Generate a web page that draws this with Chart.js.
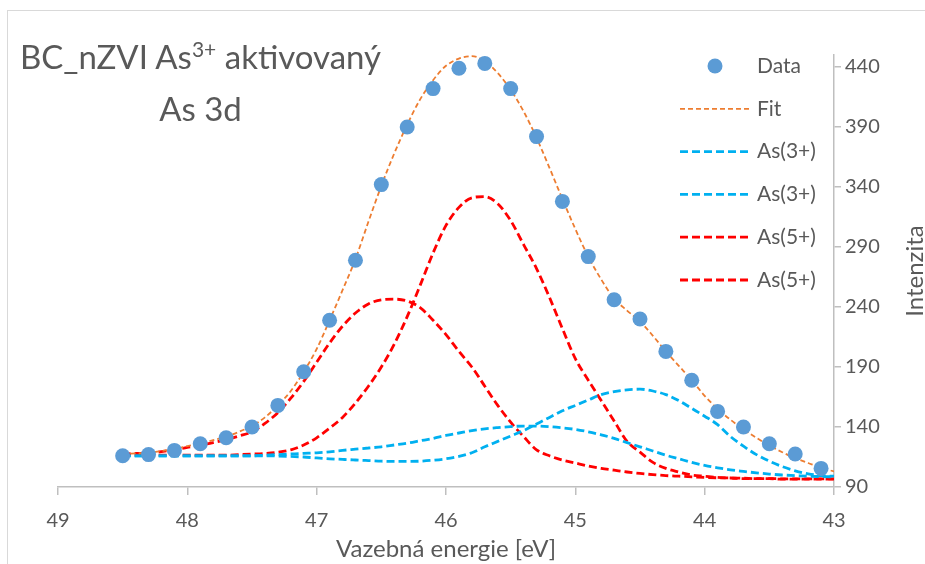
<!DOCTYPE html>
<html>
<head>
<meta charset="utf-8">
<script src="https://cdn.jsdelivr.net/npm/chart.js@4/dist/chart.umd.min.js"></script>
<style>
  body { margin: 0; background: #fff; }
  #wrap { position: relative; width: 925px; height: 564px; overflow: hidden; }
  #frame { position: absolute; left: 7px; top: 10px; width: 1000px; height: 700px;
           border-left: 1px solid #d9d9d9; border-top: 1px solid #d9d9d9; }
  #title { position: absolute; left: 0; top: 30px; width: 401px; text-align: center;
           font-family: Lato, sans-serif; font-size: 33px; color: #595959; line-height: 52px; }
  #title sup { font-size: 21px; vertical-align: 12px; line-height: 0; }
  canvas { position: absolute; left: 0; top: 0; }
</style>
</head>
<body>
<div id="wrap">
  <div id="frame"></div>
  <canvas id="myChart" width="925" height="564"></canvas>
  <div id="title">BC_nZVI As<sup>3+</sup> aktivovaný<br>As 3d</div>
</div>
<script>
// measured points
let dataX = [48.5, 48.3, 48.1, 47.9, 47.7, 47.5, 47.3, 47.1, 46.9, 46.7, 46.5, 46.3, 46.1, 45.9,
    45.7, 45.5, 45.3, 45.1, 44.9, 44.7, 44.5, 44.3, 44.1, 43.9, 43.7, 43.5, 43.3, 43.1]
let dataY = [116, 117, 120.5, 126, 131, 140, 158, 186, 229, 279, 342, 390, 422, 439,
    443, 422, 382, 328, 282, 246, 230, 203, 179, 153, 140, 126, 117.5, 105.5]

// fitted curves, read every 0.1 eV
let curveX = [48.5, 48.4, 48.3, 48.2, 48.1, 48.0, 47.9, 47.8, 47.7, 47.6,
    47.5, 47.4, 47.3, 47.2, 47.1, 47.0, 46.9, 46.8, 46.7, 46.6,
    46.5, 46.4, 46.3, 46.2, 46.1, 46.0, 45.9, 45.8, 45.7, 45.6,
    45.5, 45.4, 45.3, 45.2, 45.1, 45.0, 44.9, 44.8, 44.7, 44.6,
    44.5, 44.4, 44.3, 44.2, 44.1, 44.0, 43.9, 43.8, 43.7, 43.6,
    43.5, 43.4, 43.3, 43.2, 43.1, 43.0]
let fitY = [117.5, 118, 118.5, 120, 121.5, 124, 126.5, 129, 132, 136,
    141, 148, 158, 170, 186, 205, 229, 254, 280, 311,
    341, 368, 392, 413, 429, 441, 447, 449, 445, 435,
    421, 403, 381, 356, 330, 305, 282, 263, 247, 237,
    228, 216, 203, 191, 179, 166, 155, 146, 138, 131,
    124.5, 119, 114, 110, 106, 103]
let as3aY = [116, 116, 116, 116, 116, 116, 116, 116, 116, 116,
    116, 116, 115.8, 115.5, 115, 114.2, 113.5, 113, 112.5, 112,
    111.5, 111.3, 111.3, 111.5, 112.3, 113.5, 115.5, 118.5, 123.5, 128,
    132.5, 137, 142.5, 148, 153.5, 158, 162.5, 167, 169.5, 171,
    171.5, 170, 167, 162, 155.5, 149, 142, 132, 124, 117,
    111.5, 107, 103.5, 101, 99.5, 99]
let as3bY = [116, 116, 116, 116, 116, 116, 116, 116, 116, 116,
    116, 116.5, 117, 117.5, 118, 118.5, 119.3, 120.5, 121.5, 122.5,
    123.5, 125, 126.5, 128.5, 130.5, 133, 135, 137, 138.5, 139.5,
    140.3, 140.8, 140.8, 140.3, 139.3, 138, 136, 133.5, 130.5, 127,
    123.5, 120, 116.5, 113.5, 110.5, 108, 106, 104.3, 103, 101.8,
    100.8, 100, 99.5, 99, 98.7, 98.5]
let as5aY = [116.5, 116.5, 116.5, 116.5, 116.5, 116.5, 116.5, 116.5, 116.5, 117,
    117.5, 118, 119, 121, 125, 131, 139, 148, 160, 174,
    190, 209, 232, 258, 285, 308, 323, 331, 332, 326,
    312, 292, 272, 248, 222, 197, 179, 162, 145, 128,
    119, 110.5, 105.5, 102.5, 100, 99, 98, 97.5, 97, 97,
    97, 96.5, 96.5, 96.5, 96.5, 96.5]
let as5bY = [117.5, 118, 118.3, 119.5, 121, 123, 124.7, 127, 129.4, 132.5,
    136, 143, 152, 164, 178, 194, 210, 224, 235, 242.5,
    246, 246.5, 245, 239.5, 229, 217, 203, 190, 174, 158,
    144, 132, 121, 116, 112.5, 110, 107.5, 105.5, 104, 102.5,
    101.3, 100.3, 99.5, 99, 98.5, 98, 97.7, 97.5, 97.3, 97,
    97, 96.8, 96.8, 96.7, 96.7, 96.7]

let labels = ['Data', 'Fit', 'As(3+)', 'As(3+)', 'As(5+)', 'As(5+)']
let yTicks = [90, 140, 190, 240, 290, 340, 390, 440]

const FONT = 'Lato, sans-serif'
const TEXT = '#595959'

function pairs(xs, ys) {
    return xs.map((x, i) => ({ x: x, y: ys[i] }))
}

function curve(label, ys, color, width, dash) {
    return {
        label: label,
        data: pairs(curveX, ys),
        showLine: true,
        borderColor: color,
        backgroundColor: color,
        borderWidth: width,
        borderDash: dash,
        pointRadius: 0,
        cubicInterpolationMode: 'monotone',
        fill: false
    }
}

// legend drawn inside the plot, right side
const sideLegend = {
    id: 'sideLegend',
    afterDraw(chart) {
        const ctx = chart.ctx
        ctx.save()
        ctx.font = '21px ' + FONT
        ctx.fillStyle = TEXT
        ctx.textBaseline = 'middle'
        chart.data.datasets.forEach((ds, i) => {
            let y = 66 + i * 42.8
            if (ds.showLine) {
                ctx.strokeStyle = ds.borderColor
                ctx.lineWidth = ds.borderWidth
                ctx.setLineDash(ds.borderDash)
                ctx.beginPath()
                ctx.moveTo(680, y)
                ctx.lineTo(749, y)
                ctx.stroke()
                ctx.setLineDash([])
            } else {
                ctx.fillStyle = ds.backgroundColor
                ctx.beginPath()
                ctx.arc(715, y, 7.5, 0, Math.PI * 2)
                ctx.fill()
                ctx.fillStyle = TEXT
            }
            ctx.fillText(ds.label, 757, y)
        })
        // y axis title, reads bottom to top
        ctx.font = '24px ' + FONT
        ctx.translate(915, 271)
        ctx.rotate(-Math.PI / 2)
        ctx.textAlign = 'center'
        ctx.fillText('Intenzita', 0, 0)
        ctx.restore()
    }
}

const ctx = document.getElementById('myChart').getContext('2d')
const myChart = new Chart(ctx, {
    type: 'scatter',
    data: {
        datasets: [
            {
                label: labels[0],
                data: pairs(dataX, dataY),
                showLine: false,
                pointRadius: 7.5,
                pointHoverRadius: 7.5,
                backgroundColor: '#5b9bd5',
                borderWidth: 0
            },
            curve(labels[1], fitY, '#ed7d31', 1.8, [5, 3]),
            curve(labels[2], as3aY, '#00b0f0', 2.8, [8, 4]),
            curve(labels[3], as3bY, '#00b0f0', 2.8, [8, 4]),
            curve(labels[4], as5aY, '#ff0000', 2.8, [8, 4]),
            curve(labels[5], as5bY, '#ff0000', 2.8, [8, 4])
        ]
    },
    options: {
        responsive: false,
        animation: false,
        layout: { padding: { left: 58, top: 55, right: 0, bottom: 0 } },
        plugins: { legend: { display: false }, tooltip: { enabled: false } },
        scales: {
            x: {
                type: 'linear',
                min: 43,
                max: 49,
                reverse: true,
                afterFit: (s) => { s.height = 77 },
                ticks: { stepSize: 1, color: TEXT, font: { family: FONT, size: 20 }, padding: 14 },
                grid: { drawOnChartArea: false, color: '#bfbfbf', tickLength: 8, lineWidth: 1.5 },
                border: { color: '#bfbfbf', width: 1.5 },
                title: { display: true, text: 'Vazebná energie [eV]', color: TEXT,
                         font: { family: FONT, size: 24 }, padding: { top: 2, bottom: 0 } }
            },
            y: {
                type: 'linear',
                position: 'right',
                min: 90,
                max: 450,
                afterFit: (s) => { s.width = 91 },
                afterBuildTicks: (s) => { s.ticks = yTicks.map(v => ({ value: v })) },
                ticks: { color: TEXT, font: { family: FONT, size: 20 }, padding: 4 },
                grid: { drawOnChartArea: false, color: '#bfbfbf', tickLength: 7, lineWidth: 1.5 },
                border: { color: '#bfbfbf', width: 1.5 }
            }
        }
    },
    plugins: [sideLegend]
})
</script>
</body>
</html>
